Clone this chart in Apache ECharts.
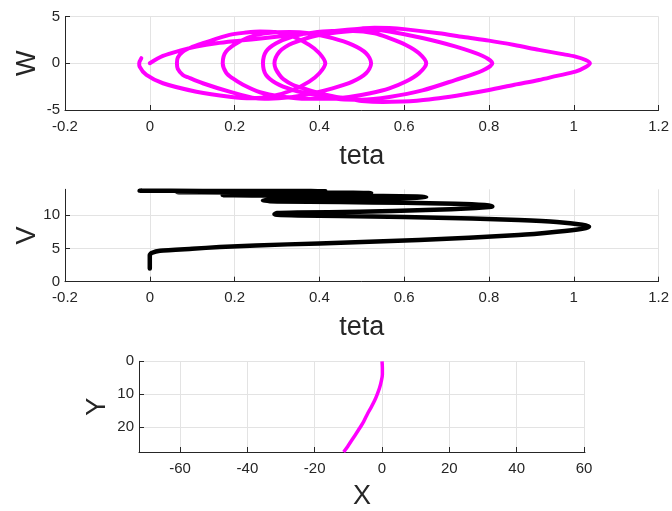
<!DOCTYPE html>
<html>
<head>
<meta charset="utf-8">
<script src="https://cdn.jsdelivr.net/npm/echarts@6/dist/echarts.min.js"></script>
<style>
html,body{margin:0;padding:0;background:#fff;}
#c{width:672px;height:511px;}
</style>
</head>
<body>
<div id="c"></div>
<script>
// ---- Data ----
// Phase trajectory: [teta, W]
const tetaW = [
  [0,0],[0.031,0.78],[0.071,1.35],[0.11,1.78],[0.157,2.14],[0.212,2.42],[0.267,2.68],[0.33,3.0],[0.4,3.3],[0.46,3.55],[0.5,3.72],[0.53,3.8],[0.565,3.77],[0.6,3.65],[0.682,3.2],[0.74,2.8],[0.8,2.42],[0.86,1.95],[0.918,1.43],[0.97,1.0],[1.004,0.71],[1.028,0.35],[1.038,0],
  [1.028,-0.4],[1.004,-0.9],[0.96,-1.35],[0.918,-1.79],[0.86,-2.3],[0.8,-2.86],[0.74,-3.35],[0.682,-3.75],[0.63,-4.0],[0.596,-4.1],[0.55,-4.15],[0.5,-4.05],[0.478,-3.86],[0.44,-3.6],[0.4,-3.2],[0.37,-2.8],[0.337,-2.3],[0.315,-1.7],[0.306,-1.25],[0.297,-0.6],[0.294,0],
  [0.297,0.6],[0.306,1.25],[0.32,1.75],[0.337,2.14],[0.384,2.86],[0.44,3.28],[0.494,3.5],[0.53,3.55],[0.565,3.4],[0.643,2.7],[0.72,1.8],[0.784,0.8],[0.808,0],
  [0.784,-0.8],[0.72,-1.8],[0.643,-2.9],[0.565,-3.6],[0.5,-3.9],[0.45,-3.85],[0.416,-3.58],[0.37,-3.2],[0.337,-2.86],[0.298,-2.14],[0.274,-1.25],[0.267,0],
  [0.274,1.25],[0.298,2.14],[0.337,2.86],[0.38,3.25],[0.43,3.45],[0.48,3.45],[0.53,3.2],[0.565,2.68],[0.604,1.96],[0.635,1.07],[0.652,0],
  [0.635,-1.07],[0.604,-1.96],[0.565,-2.68],[0.52,-3.2],[0.47,-3.6],[0.42,-3.8],[0.37,-3.8],[0.31,-3.55],[0.26,-3.1],[0.22,-2.3],[0.195,-1.6],[0.18,-1.0],[0.172,0],
  [0.18,1.25],[0.212,2.32],[0.251,3.03],[0.29,3.3],[0.33,3.35],[0.376,3.2],[0.431,2.68],[0.478,1.96],[0.51,1.07],[0.522,0],
  [0.51,-1.07],[0.478,-1.96],[0.431,-2.68],[0.38,-3.25],[0.33,-3.65],[0.28,-3.8],[0.251,-3.75],[0.188,-3.04],[0.125,-2.14],[0.09,-1.5],[0.078,-1.25],[0.066,-0.6],[0.064,0],
  [0.066,0.6],[0.078,1.25],[0.1,1.75],[0.125,2.14],[0.188,3.03],[0.227,3.28],[0.26,3.4],[0.3,3.3],[0.337,2.86],[0.376,1.96],[0.4,1.07],[0.414,0],
  [0.4,-1.07],[0.376,-1.96],[0.337,-2.86],[0.29,-3.5],[0.24,-3.75],[0.188,-3.58],[0.11,-3.04],[0.031,-2.14],[-0.008,-1.25],[-0.024,-0.36],[-0.025,0],[-0.02,0.54]
];
// Velocity vs teta: [teta, V]
const tetaV = [
  [0,2.0],[0,3.0],[0,4.0],[0.004,4.3],[0.024,4.65],[0.1,4.95],[0.165,5.2],[0.25,5.45],[0.4,5.75],[0.635,6.25],[0.87,7.0],[0.96,7.5],[1.02,7.95],[1.036,8.25],
  [1.02,8.55],[0.96,8.95],[0.87,9.25],[0.76,9.5],[0.6,9.7],[0.45,9.85],[0.35,9.95],[0.3,10.05],[0.294,10.15],
  [0.3,10.3],[0.35,10.38],[0.494,10.5],[0.651,10.75],[0.769,11.05],[0.8,11.2],[0.808,11.3],
  [0.79,11.5],[0.72,11.7],[0.6,11.85],[0.45,11.95],[0.3,12.05],[0.267,12.15],
  [0.28,12.3],[0.4,12.4],[0.55,12.5],[0.63,12.6],[0.652,12.7],
  [0.63,12.8],[0.55,12.85],[0.4,12.9],[0.25,12.95],[0.172,13.0],
  [0.2,13.1],[0.35,13.15],[0.48,13.2],[0.522,13.3],
  [0.48,13.35],[0.35,13.38],[0.2,13.4],[0.064,13.45],
  [0.1,13.5],[0.25,13.52],[0.38,13.55],[0.414,13.58],
  [0.38,13.6],[0.2,13.62],[0.05,13.64],[-0.024,13.66],[-0.02,13.68]
];
// Path in plane: [X, Y]
const pathXY = [
  [0,0],[0.1,2],[0.1,4],[-0.2,6],[-0.7,8],[-1.4,10],[-2.2,12],[-3.2,14],[-4.3,16],[-5.5,18.5],[-7.0,21],[-8.6,23.5],[-10.2,26],[-11.4,27.7]
];
const tetaTicks = [-0.2,0,0.2,0.4,0.6,0.8,1,1.2];
const wTicks = [-5,0,5];
const vTicks = [0,5,10];
const xTicks = [-60,-40,-20,0,20,40,60];
const yTicks = [0,10,20];

// ---- Styles ----
const AX = '#262626';
const GRIDC = '#e3e3e3';
const FF = "'Liberation Sans', Arial, Helvetica, sans-serif";
function axisCommon(ticks){
  return {
    type:'value',
    axisLine:{show:true,onZero:false,lineStyle:{color:AX,width:1}},
    axisTick:{show:true,inside:true,length:5,lineStyle:{color:AX},customValues:ticks},
    axisLabel:{color:AX,fontSize:15,fontFamily:FF,customValues:ticks},
    splitLine:{show:true,lineStyle:{color:GRIDC,width:1}},
    nameLocation:'middle',
    nameMoveOverlap:false,
    nameTextStyle:{color:AX,fontSize:27,fontFamily:FF}
  };
}
const chart = echarts.init(document.getElementById('c'), null, {renderer:'canvas'});
const xa0 = Object.assign(axisCommon(tetaTicks),{gridIndex:0,min:-0.2,max:1.2,name:'teta',nameGap:33});
xa0.axisLabel = Object.assign({},xa0.axisLabel,{margin:9});
const xa1 = Object.assign(axisCommon(tetaTicks),{gridIndex:1,min:-0.2,max:1.2,name:'teta',nameGap:32});
xa1.axisLabel = Object.assign({},xa1.axisLabel,{margin:9});
const xa2 = Object.assign(axisCommon(xTicks),{gridIndex:2,min:-72.2,max:60.3,name:'X',nameGap:31});
xa2.axisLabel = Object.assign({},xa2.axisLabel,{margin:9});
const ya0 = Object.assign(axisCommon(wTicks),{gridIndex:0,min:-5,max:5,name:'W',nameGap:24,nameRotate:90});
ya0.axisLabel = Object.assign({},ya0.axisLabel,{margin:5});
const ya1 = Object.assign(axisCommon(vTicks),{gridIndex:1,min:0,max:13.87,name:'V',nameGap:24,nameRotate:90});
ya1.axisLabel = Object.assign({},ya1.axisLabel,{margin:5});
const ya2 = Object.assign(axisCommon(yTicks),{gridIndex:2,min:0,max:27.7,inverse:true,name:'Y',nameGap:28,nameRotate:90});
ya2.axisLabel = Object.assign({},ya2.axisLabel,{margin:5});

chart.setOption({
  animation:false,
  backgroundColor:'#ffffff',
  grid:[
    {left:65,right:13,top:16.5,height:93.5},
    {left:65,right:13,top:189.3,height:92.4},
    {left:139,width:446,top:361.3,height:92.7}
  ],
  xAxis:[xa0,xa1,xa2],
  yAxis:[ya0,ya1,ya2],
  series:[
    {type:'line',xAxisIndex:0,yAxisIndex:0,data:tetaW,showSymbol:false,smooth:0.3,
     lineStyle:{color:'#ff00ff',width:4,cap:'round',join:'round'}},
    {type:'line',xAxisIndex:1,yAxisIndex:1,data:tetaV,showSymbol:false,smooth:0.2,
     lineStyle:{color:'#000000',width:4.5,cap:'round',join:'round'}},
    {type:'line',xAxisIndex:2,yAxisIndex:2,data:pathXY,showSymbol:false,smooth:0.3,
     lineStyle:{color:'#ff00ff',width:3.5,cap:'butt'}}
  ]
});
</script>
</body>
</html>
